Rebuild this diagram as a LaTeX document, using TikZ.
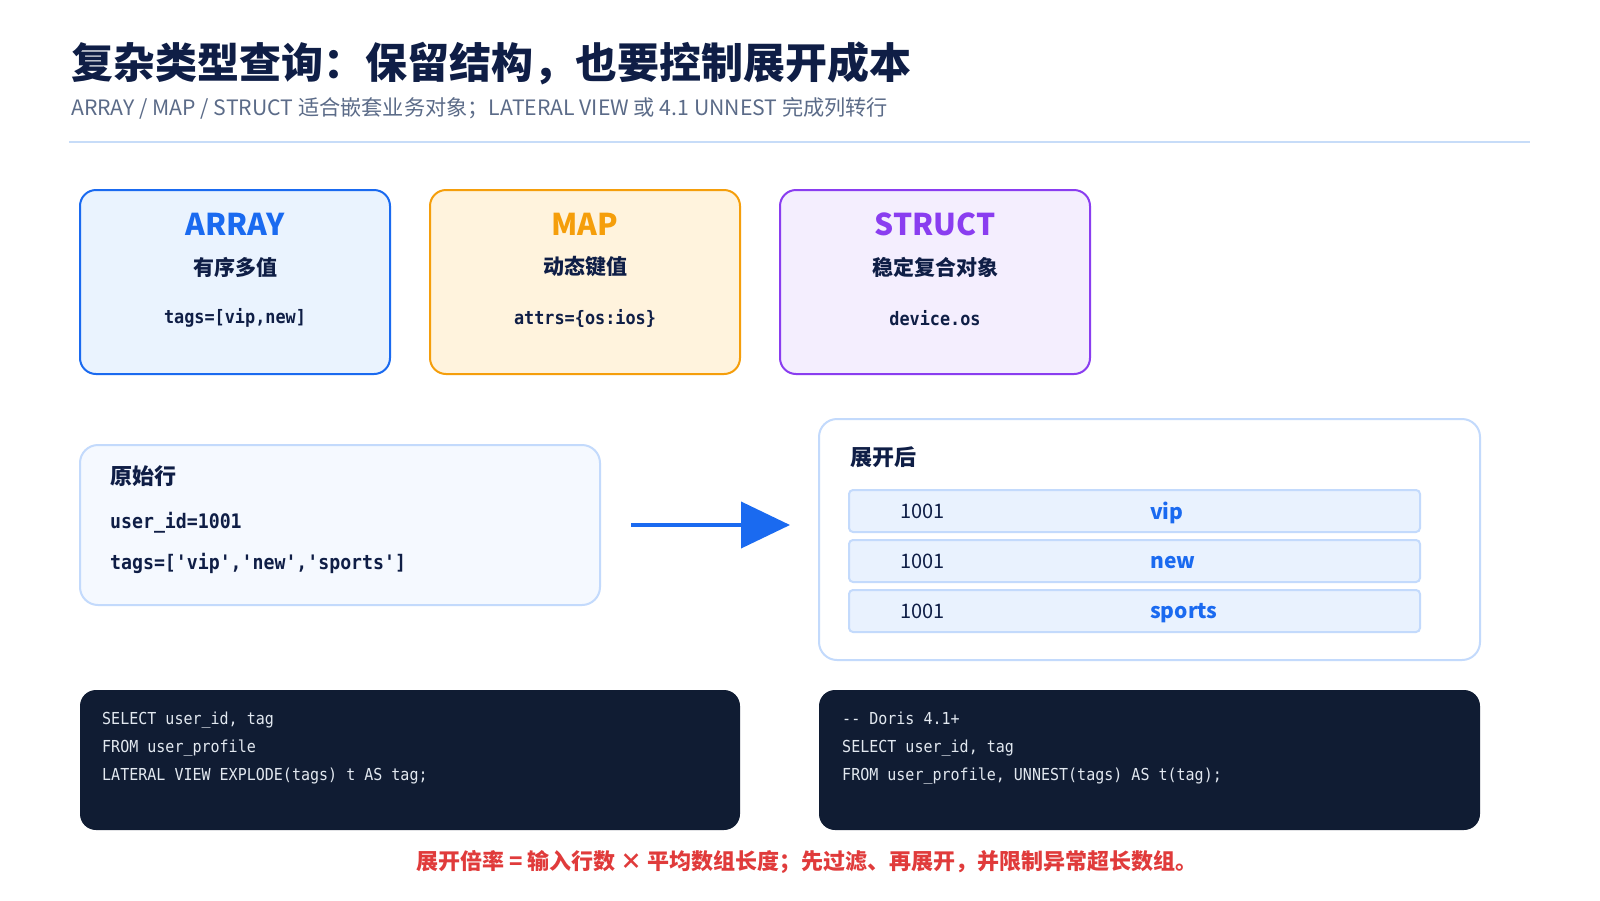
\documentclass[tikz,border=0pt]{standalone}
\usepackage{fontspec}
\setmainfont{Noto Sans CJK SC}
\newfontfamily\codefont[FakeStretch=0.91,Ligatures=TeXOff]{DejaVu Sans Mono}
\usetikzlibrary{arrows.meta,positioning}

\definecolor{ink}{HTML}{0F1E46}
\definecolor{subgray}{HTML}{5B6B88}
\definecolor{rule}{HTML}{C7DCF8}
\definecolor{arrblue}{HTML}{1A6AF0}
\definecolor{arrfill}{HTML}{EAF3FE}
\definecolor{maporange}{HTML}{F59E0B}
\definecolor{mapfill}{HTML}{FFF3DD}
\definecolor{structpurple}{HTML}{8A3DF0}
\definecolor{structfill}{HTML}{F4EEFE}
\definecolor{paleedge}{HTML}{C3DAFC}
\definecolor{rawfill}{HTML}{F5F9FF}
\definecolor{rowfill}{HTML}{E9F2FE}
\definecolor{darkbg}{HTML}{101C33}
\definecolor{codewhite}{HTML}{E2E8F0}
\definecolor{warnred}{HTML}{E03B3B}

\tikzset{
  card/.style 2 args={draw=#1, fill=#2, line width=2pt, rounded corners=16pt,
    inner sep=0pt, minimum width=310pt, minimum height=184pt},
  cardname/.style={font=\fontsize{30}{34}\selectfont\bfseries},
  cardsub/.style={text=ink, font=\fontsize{21}{25}\selectfont\bfseries},
  cardcode/.style={text=ink, font=\codefont\fontsize{18.5}{22}\selectfont\bfseries},
  panel/.style={draw=paleedge, line width=2pt, rounded corners=18pt, inner sep=0pt},
  rowbox/.style={draw=paleedge, fill=rowfill, line width=2pt, rounded corners=4pt,
    inner sep=0pt, minimum width=571pt, minimum height=42pt},
  darkbox/.style={fill=darkbg, rounded corners=16pt, inner sep=0pt,
    minimum width=660pt, minimum height=140pt},
  sqlcode/.style={text=codewhite, align=left, inner sep=0pt,
    font=\codefont\fontsize{16.5}{28}\selectfont},
  flow/.style={draw=arrblue, line width=4pt, -{Triangle[length=49pt,width=46pt]}}
}

\begin{document}
\begin{tikzpicture}[x=1pt,y=-1pt]
  \useasboundingbox[fill=white] (0,0) rectangle (1600,900);

  % heading
  \node[anchor=west, inner sep=0pt, text=ink, font=\fontsize{42}{48}\selectfont\bfseries]
    (title) at (71,63) {复杂类型查询：保留结构，也要控制展开成本};
  \node[anchor=west, inner sep=0pt, text=subgray, font=\fontsize{21.2}{24}\selectfont]
    (subtitle) at (71,108) {ARRAY / MAP / STRUCT 适合嵌套业务对象；LATERAL VIEW 或 4.1 UNNEST 完成列转行};
  \coordinate (ruleL) at (69,142);
  \coordinate (ruleR) at (1530,142);
  \draw[rule, line width=2pt] (ruleL) -- (ruleR);

  % three type cards
  \node[card={arrblue}{arrfill}] (array) at (235,282) {};
  \node[card={maporange}{mapfill}] (map) at (585,282) {};
  \node[card={structpurple}{structfill}] (struct) at (935,282) {};

  \node[cardname, text=arrblue] (arrayname) at (235,224) {ARRAY};
  \node[cardsub] (arraysub) at (235,267) {有序多值};
  \node[cardcode] (arraycode) at (235,318) {tags=[vip,new]};

  \node[cardname, text=maporange] (mapname) at (585,224) {MAP};
  \node[cardsub] (mapsub) at (585,267) {动态键值};
  \node[cardcode] (mapcode) at (585,318) {attrs=\{os:ios\}};

  \node[cardname, text=structpurple] (structname) at (935,224) {STRUCT};
  \node[cardsub] (structsub) at (935,267) {稳定复合对象};
  \node[cardcode] (structcode) at (935,318) {device.os};

  % raw row and exploded rows
  \node[panel, fill=rawfill, minimum width=520pt, minimum height=160pt] (raw) at (340,525) {};
  \node[anchor=west, inner sep=0pt, text=ink, font=\fontsize{22}{26}\selectfont\bfseries]
    (rawname) at (110,476) {原始行};
  \node[anchor=west, inner sep=0pt, text=ink, font=\codefont\fontsize{20}{24}\selectfont\bfseries]
    (rawid) at (110,523) {user\_id=1001};
  \node[anchor=west, inner sep=0pt, text=ink, font=\codefont\fontsize{20}{24}\selectfont\bfseries]
    (rawtags) at (110,563) {tags=['vip','new','sports']};

  \node[panel, fill=white, minimum width=661pt, minimum height=241pt] (exp) at (1149.5,539.5) {};
  \node[anchor=west, inner sep=0pt, text=ink, font=\fontsize{22}{26}\selectfont\bfseries]
    (expname) at (850,457) {展开后};

  \foreach \tagval [count=\i] in {vip,new,sports} {
    \node[rowbox] (row\i) at (1134.5,461+50*\i) {};
    \node[anchor=west, inner sep=0pt, text=ink, font=\fontsize{20}{24}\selectfont]
      (rowid\i) at (900,461+50*\i) {1001};
    \node[anchor=west, inner sep=0pt, text=arrblue, font=\fontsize{21}{24}\selectfont\bfseries]
      (rowtag\i) at (1150,463+50*\i) {\tagval};
  }

  \draw[flow, shorten <=30pt, shorten >=28pt] (raw.east) -- (raw.east -| exp.west);

  % sql
  \node[darkbox] (sqlold) at (410,760) {};
  \node[darkbox, minimum width=661pt] (sqlnew) at (1149.5,760) {};
  \node[sqlcode, anchor=north west] (sqloldtext) at (102,712)
    {SELECT user\_id, tag\\FROM user\_profile\\LATERAL VIEW EXPLODE(tags) t AS tag;};
  \node[sqlcode, anchor=north west] (sqlnewtext) at (842,712)
    {-- Doris 4.1+\\SELECT user\_id, tag\\FROM user\_profile, UNNEST(tags) AS t(tag);};

  \node[text=warnred, inner sep=0pt, font=\fontsize{22}{26}\selectfont\bfseries]
    (note) at (807,862) {展开倍率 = 输入行数 × 平均数组长度；先过滤、再展开，并限制异常超长数组。};
\end{tikzpicture}
\end{document}
